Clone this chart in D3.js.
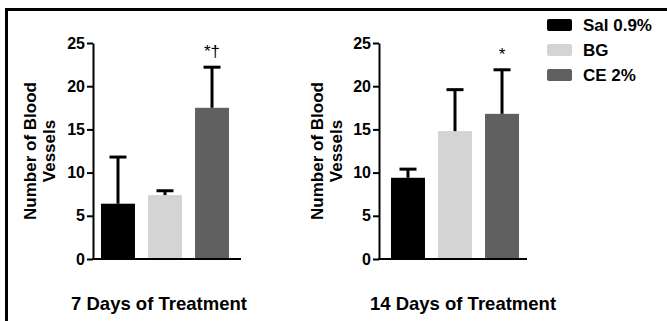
<!DOCTYPE html>
<html>
<head>
<meta charset="utf-8">
<script src="https://cdn.jsdelivr.net/npm/d3@7"></script>
<style>
  body { margin: 0; background: #fff; }
  svg { display: block; font-family: "Liberation Sans", Arial, sans-serif; }
</style>
</head>
<body>
<script>
// data
const groups = ["Sal 0.9%", "BG", "CE 2%"];
const day7Means = [6.4, 7.4, 17.5];
const day7Err = [5.4, 0.5, 4.7];
const day7Marks = ["", "", "*\u2020"];
const day14Means = [9.4, 14.8, 16.8];
const day14Err = [1.0, 4.8, 5.1];
const day14Marks = ["", "", "*"];
const yTicks = [0, 5, 10, 15, 20, 25];
const panelTitles = ["7 Days of Treatment", "14 Days of Treatment"];

const colors = ["#000000", "#d4d4d4", "#606060"];
const width = 667,
  height = 321;

const svg = d3
  .select("body")
  .append("svg")
  .attr("width", width)
  .attr("height", height);

// frame (only top and left edges show)
svg
  .append("path")
  .attr("d", "M6.5," + height + " V9.5 H" + width)
  .attr("fill", "none")
  .attr("stroke", "#000")
  .attr("stroke-width", 3);

const yScale = d3.scaleLinear().domain([0, 25]).range([259, 43]);

const panels = [
  { x0: 93, shift: 0, means: day7Means, err: day7Err, marks: day7Marks, title: panelTitles[0], labX: 36, titleX: 159 },
  { x0: 379, shift: 4, means: day14Means, err: day14Err, marks: day14Marks, title: panelTitles[1], labX: 323, titleX: 463 },
];

const drawPanel = (p) => {
  const g = svg.append("g");
  const xScale = d3
    .scaleBand()
    .domain(groups)
    .range([p.x0 + p.shift, p.x0 + 144 + p.shift])
    .paddingInner(0.277)
    .paddingOuter(0.17);
  const bw = xScale.bandwidth();

  // bars
  g.selectAll("rect.bar")
    .data(groups)
    .enter()
    .append("rect")
    .attr("class", "bar")
    .attr("x", (d) => xScale(d))
    .attr("y", (d, i) => yScale(p.means[i]))
    .attr("width", bw)
    .attr("height", (d, i) => yScale(0) - yScale(p.means[i]))
    .attr("fill", (d, i) => colors[i]);

  // error bars (upper only)
  g.selectAll("line.err")
    .data(groups)
    .enter()
    .append("line")
    .attr("x1", (d) => xScale(d) + bw / 2)
    .attr("x2", (d) => xScale(d) + bw / 2)
    .attr("y1", (d, i) => yScale(p.means[i]))
    .attr("y2", (d, i) => yScale(p.means[i] + p.err[i]))
    .attr("stroke", "#000")
    .attr("stroke-width", 3);
  g.selectAll("line.cap")
    .data(groups)
    .enter()
    .append("line")
    .attr("x1", (d) => xScale(d) + bw / 4)
    .attr("x2", (d) => xScale(d) + (3 * bw) / 4)
    .attr("y1", (d, i) => yScale(p.means[i] + p.err[i]))
    .attr("y2", (d, i) => yScale(p.means[i] + p.err[i]))
    .attr("stroke", "#000")
    .attr("stroke-width", 3);

  // significance marks
  g.selectAll("text.mark")
    .data(groups)
    .enter()
    .append("text")
    .attr("x", (d) => xScale(d) + bw / 2)
    .attr("y", (d, i) => yScale(p.means[i] + p.err[i]) - 10)
    .attr("text-anchor", "middle")
    .style("font-size", "17px")
    .text((d, i) => p.marks[i]);

  // y axis
  const yAxis = d3.axisLeft(yScale).tickValues(yTicks).tickSize(6).tickPadding(2).tickSizeOuter(0);
  const ya = g.append("g").attr("transform", "translate(" + p.x0 + ",0)").call(yAxis);
  ya.select(".domain").attr("stroke-width", 2);
  ya.selectAll(".tick line").attr("stroke-width", 2);
  ya.selectAll(".tick text")
    .attr("fill", "#000")
    .style("font-size", "16px")
    .style("font-weight", "bold")
    .style("font-family", "Liberation Sans, Arial, sans-serif");

  // x axis line
  g.append("line")
    .attr("x1", p.x0 - 1)
    .attr("x2", p.x0 + 148)
    .attr("y1", yScale(0))
    .attr("y2", yScale(0))
    .attr("stroke", "#000")
    .attr("stroke-width", 2);

  // y label
  const lab = g
    .append("text")
    .attr("transform", "translate(" + p.labX + "," + 151 + ") rotate(-90)")
    .attr("text-anchor", "middle")
    .style("font-size", "17px")
    .style("font-weight", "bold");
  lab.append("tspan").attr("x", 0).attr("y", 0).text("Number of Blood");
  lab.append("tspan").attr("x", 0).attr("y", 19).text("Vessels");

  // panel title
  g.append("text")
    .attr("x", p.titleX)
    .attr("y", 310)
    .attr("text-anchor", "middle")
    .style("font-size", "18.5px")
    .style("font-weight", "bold")
    .text(p.title);
};

panels.forEach(drawPanel);

// legend
const legend = svg.append("g").attr("transform", "translate(547,19)");
legend
  .selectAll("rect")
  .data(groups)
  .enter()
  .append("rect")
  .attr("x", 0)
  .attr("y", (d, i) => i * 25)
  .attr("width", 25)
  .attr("height", 12)
  .attr("rx", 2)
  .attr("fill", (d, i) => colors[i]);
legend
  .selectAll("text")
  .data(groups)
  .enter()
  .append("text")
  .attr("x", 36)
  .attr("y", (d, i) => i * 25 + 12)
  .style("font-size", "17px")
  .style("font-weight", "bold")
  .text((d) => d);
</script>
</body>
</html>
